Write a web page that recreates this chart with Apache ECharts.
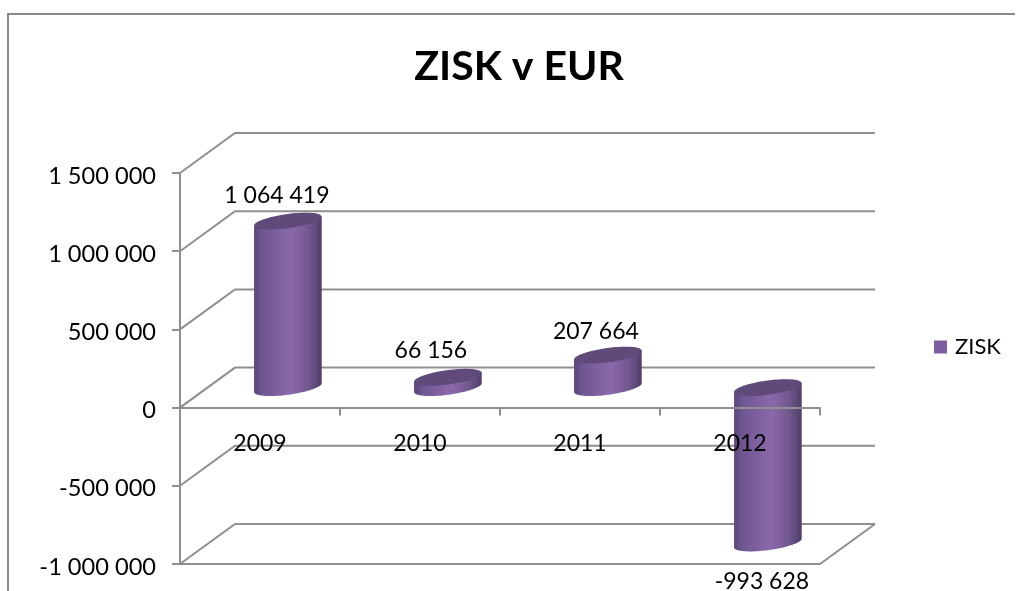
<!DOCTYPE html>
<html><head><meta charset="utf-8">
<script src="https://cdn.jsdelivr.net/npm/echarts@6/dist/echarts.min.js"></script>
<style>html,body{margin:0;padding:0;background:#fff}#c{width:1017px;height:591px}</style>
</head><body><div id="c"></div>
<script>
const years = ['2009','2010','2011','2012'];
const zisk = [1064419, 66156, 207664, -993628];
const tickValues = [-1000000,-500000,0,500000,1000000,1500000];
const seriesName = 'ZISK';
const titleText = 'ZISK v EUR';

// perspective style constants
const DEPTH_X = 55, DEPTH_Y = -40;
const FONT = 'Lato, "Noto Sans", sans-serif';
const GRID_COLOR = '#8f8f8f';
const labelNudge = [[-11,-26],[-17,-27],[-12,-24],[-6,39]];

const fmt = v => (v<0?'-':'') + String(Math.abs(v)).replace(/\B(?=(\d{3})+$)/g,' ');

function ellipse(cx, cy, a, b, k, from, to, n){
  const pts=[];
  for(let i=0;i<=n;i++){
    const t=from+(to-from)*i/n;
    pts.push([cx+a*Math.cos(t), cy+b*Math.sin(t)-k*a*Math.cos(t)]);
  }
  return pts;
}
const bodyFill = {type:'linear',x:0,y:0,x2:1,y2:0,colorStops:[
  {offset:0,color:'#5b4679'},{offset:.12,color:'#6f5590'},{offset:.35,color:'#7f60a1'},
  {offset:.55,color:'#8a69aa'},{offset:.8,color:'#73588f'},{offset:.93,color:'#5d4879'},{offset:1,color:'#4d3b66'}]};

function renderGrid(params, api){
  const v = api.value(1);
  const y = api.coord([0,v])[1];
  const cs = params.coordSys;
  const x0 = cs.x, x1 = cs.x+cs.width;
  const style = {stroke:GRID_COLOR,lineWidth:2,fill:null};
  const pts = [[x0,y],[x0+DEPTH_X,y+DEPTH_Y],[x1+DEPTH_X,y+DEPTH_Y]];
  const children = [{type:'polyline',shape:{points:pts},style}];
  if(v===tickValues[0]){
    children.push({type:'polyline',shape:{points:[[x0,y],[x1,y],[x1+DEPTH_X,y+DEPTH_Y]]},style});
  }
  return {type:'group',children};
}
function renderBar(params, api){
  const i = api.value(0), v = api.value(1);
  const band = api.size([1,0])[0];
  const c0 = api.coord([i,0]), c1 = api.coord([i,v]);
  const cx = c0[0]+DEPTH_X/2+0.4, a = band*0.2113;
  const hi = Math.min(c0[1],c1[1])+DEPTH_Y/2, lo = Math.max(c0[1],c1[1])+DEPTH_Y/2;
  const b = 7.2, k = 0.13;
  const body = ellipse(cx,lo,a,b,k,0,Math.PI,40).concat([[cx-a,hi+k*a],[cx+a,hi-k*a]]);
  const cap = ellipse(cx,hi,a,b,k,0,Math.PI*2,80);
  const n = labelNudge[params.dataIndex];
  const lx = cx+n[0], ly = (v<0?lo:hi)+n[1];
  return {type:'group',children:[
    {type:'polygon',shape:{points:body},style:{fill:bodyFill}},
    {type:'polygon',shape:{points:cap},style:{fill:'#5f4a79'}},
    {type:'text',z2:10,style:{x:lx,y:ly,text:fmt(v),align:'center',verticalAlign:'middle',font:'23px '+FONT,fill:'#000'}}
  ]};
}

const chart = echarts.init(document.getElementById('c'),null,{renderer:'canvas'});
chart.setOption({
  animation:false,
  backgroundColor:'#fff',
  title:{text:titleText,left:519,textAlign:'center',top:46,padding:0,textStyle:{fontFamily:FONT,fontSize:41,fontWeight:'bold',color:'#000'}},
  legend:{data:[{name:seriesName,icon:'rect'}],left:934,top:336,padding:0,itemWidth:13,itemHeight:13,itemGap:8,textStyle:{fontFamily:FONT,fontSize:22,color:'#000',padding:[0,0,0,3]},selectedMode:false},
  grid:{left:180,right:197,top:173,bottom:27,containLabel:false,outerBoundsMode:'none'},
  xAxis:{type:'category',data:years,
    axisLine:{onZero:true,lineStyle:{color:GRID_COLOR,width:2}},
    axisTick:{show:true,length:8,lineStyle:{color:GRID_COLOR,width:2}},
    axisLabel:{interval:0,margin:-132,fontFamily:FONT,fontSize:23,color:'#000'},
    splitLine:{show:false},z:6},
  yAxis:{type:'value',min:-1000000,max:1500000,interval:500000,
    axisLine:{show:true,lineStyle:{color:GRID_COLOR,width:2}},
    axisTick:{show:true,length:8,lineStyle:{color:GRID_COLOR,width:2}},
    axisLabel:{margin:24,fontFamily:FONT,fontSize:23.6,color:'#000',verticalAlign:'top',lineHeight:6,formatter:fmt},
    splitLine:{show:false},z:2},
  series:[
    {name:'mriežka',type:'custom',coordinateSystem:'cartesian2d',z:1,silent:true,
     encode:{x:0,y:1},data:tickValues.map(v=>[0,v]),renderItem:renderGrid},
    {name:seriesName,type:'custom',coordinateSystem:'cartesian2d',z:4,
     itemStyle:{color:'#7d5fa0'},
     encode:{x:0,y:1},data:zisk.map((v,i)=>[i,v]),renderItem:renderBar}
  ],
  graphic:[{type:'polyline',silent:true,z:0,shape:{points:[[8,591],[8,14],[1015,14]]},style:{stroke:'#8a8a8a',lineWidth:2,fill:null}}]
});
</script></body></html>
